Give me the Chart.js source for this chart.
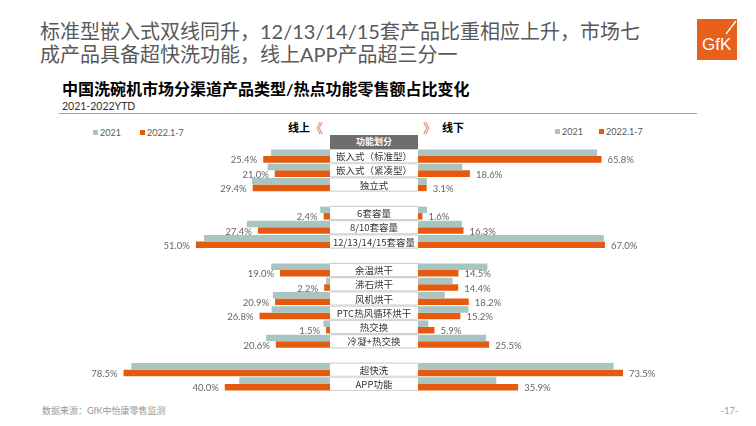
<!DOCTYPE html>
<html>
<head>
<meta charset="utf-8">
<script src="https://cdn.jsdelivr.net/npm/chart.js@4.4.1/dist/chart.umd.min.js"></script>
<style>
  html, body { margin: 0; padding: 0; background: #fff; }
  body { width: 756px; height: 426px; position: relative; overflow: hidden;
         font-family: "Lato", "Noto Sans CJK SC", sans-serif; }
  .abs { position: absolute; white-space: nowrap; }
  #title { left: 40px; top: 20px; font-size: 20px; line-height: 23px; color: #595959; }
  #subtitle { left: 62px; top: 79px; font-size: 16px; line-height: 20px; font-weight: bold; color: #000; }
  #period { left: 62px; top: 99px; font-size: 10.5px; line-height: 14px; color: #333; }
  #rule { left: 59px; top: 113px; width: 638px; height: 1px; background: #a0a0a0; }
  #logo { left: 697px; top: 19px; width: 40px; height: 41px; background: #e8601c; }
  .legend { font-size: 9px; line-height: 12px; color: #595959; }
  .sw { display: inline-block; width: 5px; height: 5px; margin-right: 2px; vertical-align: 1px; }
  .side { font-size: 11px; line-height: 14px; font-weight: bold; color: #000; }
  .arrow { font-size: 13px; line-height: 14px; color: #e8601c; }
  #head { left: 330px; top: 135px; width: 88px; height: 13.5px; background: #6e6e6e; color: #fff;
          font-size: 9px; line-height: 13.5px; font-weight: bold; text-align: center; }
  .foot { top: 405px; font-size: 9px; line-height: 12px; color: #999; }
  canvas { position: absolute; }
</style>
</head>
<body>
<div id="title" class="abs">标准型嵌入式双线同升，12/13/14/15套产品比重相应上升，市场七<br>成产品具备超快洗功能，线上APP产品超三分一</div>
<div id="logo" class="abs">
  <svg width="40" height="41">
    <text x="5" y="31" fill="#fff" font-family="Liberation Sans, sans-serif" font-size="17">GfK</text>
    <line x1="39" y1="2" x2="29" y2="15" stroke="#fff" stroke-width="1.3"/>
  </svg>
</div>
<div id="subtitle" class="abs">中国洗碗机市场分渠道产品类型/热点功能零售额占比变化</div>
<div id="period" class="abs">2021-2022YTD</div>
<div id="rule" class="abs"></div>

<div class="abs legend" style="left:93px; top:127px;"><span class="sw" style="background:#a8c5c2"></span>2021</div>
<div class="abs legend" style="left:140px; top:127px;"><span class="sw" style="background:#e45a0e"></span>2022.1-7</div>
<div class="abs side" style="left:288px; top:121px;">线上</div>
<div class="abs arrow" style="left:310px; top:121px;">《</div>
<div class="abs arrow" style="left:423px; top:121px;">》</div>
<div class="abs side" style="left:442px; top:121px;">线下</div>
<div class="abs legend" style="left:555px; top:126px;"><span class="sw" style="background:#a8c5c2"></span>2021</div>
<div class="abs legend" style="left:599px; top:126px;"><span class="sw" style="background:#e45a0e"></span>2022.1-7</div>

<div id="head" class="abs">功能划分</div>

<canvas id="online" width="250" height="242" style="left:80px; top:149px;"></canvas>
<canvas id="offline" width="367" height="242" style="left:330px; top:149px;"></canvas>

<div class="abs foot" style="left:42px;">数据来源：GfK中怡康零售监测</div>
<div class="abs foot" style="left:721px;">-17-</div>

<script>
// categories, '' = spacer row between groups
const categories = ['嵌入式（标准型）', '嵌入式（紧凑型）', '独立式', '',
  '6套容量', '8/10套容量', '12/13/14/15套容量', '',
  '余温烘干', '沸石烘干', '风机烘干', 'PTC热风循环烘干', '热交换', '冷凝+热交换', '',
  '超快洗', 'APP功能'];

const online2021 = [22.4, 23.7, 29.6, null, 3.7, 31.6, 47.9, null,
  22.4, 1.5, 21.7, 22.2, 2.5, 24.3, null, 75.5, 34.5];
const online2022 = [25.4, 21.0, 29.4, null, 2.4, 27.4, 51.0, null,
  19.0, 2.2, 20.9, 26.8, 1.5, 20.6, null, 78.5, 40.0];
const offline2021 = [64.2, 15.9, 3.2, null, 3.2, 15.7, 66.6, null,
  24.9, 12.4, 9.6, 18.1, 3.7, 24.4, null, 70.1, 28.1];
const offline2022 = [65.8, 18.6, 3.1, null, 1.6, 16.3, 67.0, null,
  14.5, 14.4, 18.2, 15.2, 5.9, 25.5, null, 73.5, 35.9];

const seriesNames = ['2021', '2022.1-7'];
const GREY = '#a8c5c2';
const ORANGE = '#e45a0e';

// value labels for the 2022.1-7 bars only
const valueLabels = {
  id: 'valueLabels',
  afterDatasetsDraw(chart) {
    const ctx = chart.ctx;
    const reversed = chart.options.scales.x.reverse;
    const meta = chart.getDatasetMeta(1);
    ctx.save();
    ctx.font = '9.5px Lato, sans-serif';
    ctx.fillStyle = '#666';
    ctx.textBaseline = 'middle';
    ctx.textAlign = reversed ? 'right' : 'left';
    meta.data.forEach((bar, i) => {
      const v = chart.data.datasets[1].data[i];
      if (v == null) return;
      const x = reversed ? bar.x - 6 : bar.x + 6;
      ctx.fillText(v.toFixed(1) + '%', x, bar.y + 1);
    });
    ctx.restore();
  }
};

// white label boxes in the middle column
const middleColumn = {
  id: 'middleColumn',
  afterDraw(chart) {
    const ctx = chart.ctx;
    const y = chart.scales.y;
    const right = chart.chartArea.left;
    const half = (y.getPixelForValue(1) - y.getPixelForValue(0)) / 2;
    ctx.save();
    categories.forEach((c, i) => {
      if (!c) return;
      const cy = y.getPixelForValue(i);
      ctx.fillStyle = '#fff';
      ctx.fillRect(0, cy - half, right, half * 2);
      ctx.strokeStyle = '#d2d2d2';
      ctx.lineWidth = 1.2;
      ctx.beginPath();
      ctx.moveTo(0, cy - half + 0.5); ctx.lineTo(right, cy - half + 0.5);
      ctx.moveTo(0, cy + half - 0.5); ctx.lineTo(right, cy + half - 0.5);
      ctx.stroke();
      ctx.fillStyle = '#333';
      ctx.font = '9.5px "Noto Sans CJK SC", sans-serif';
      ctx.textAlign = 'center';
      ctx.textBaseline = 'middle';
      ctx.fillText(c, right / 2, cy + 0.5);
    });
    ctx.restore();
  }
};

function makeChart(id, a, b, max, reverse, extra) {
  return new Chart(document.getElementById(id), {
    type: 'bar',
    data: {
      labels: categories,
      datasets: [
        { label: seriesNames[0], data: a, backgroundColor: GREY },
        { label: seriesNames[1], data: b, backgroundColor: ORANGE }
      ]
    },
    options: {
      indexAxis: 'y',
      responsive: false,
      animation: false,
      datasets: { bar: { categoryPercentage: 0.92, barPercentage: 1 } },
      layout: { padding: { left: extra, right: 0, top: 0, bottom: 0 } },
      plugins: { legend: { display: false }, tooltip: { enabled: false } },
      scales: {
        x: { display: false, min: 0, max: max, reverse: reverse },
        y: { display: false }
      }
    },
    plugins: extra ? [valueLabels, middleColumn] : [valueLabels]
  });
}

makeChart('online', online2021, online2022, 95.06, true, 0);
makeChart('offline', offline2021, offline2022, 100, false, 88);
</script>
</body>
</html>
